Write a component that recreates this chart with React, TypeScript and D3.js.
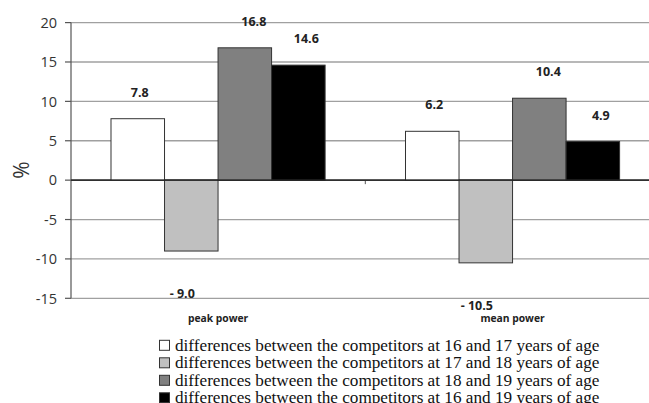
import React from "react";
import * as d3 from "d3";

const categories = ["peak power", "mean power"];
const seriesNames = [
  "differences between the competitors at 16 and 17 years of age",
  "differences between the competitors at 17 and 18 years of age",
  "differences between the competitors at 18 and 19 years of age",
  "differences between the competitors at 16 and 19 years of age",
];
const peakValues = [7.8, -9.0, 16.8, 14.6];
const meanValues = [6.2, -10.5, 10.4, 4.9];
const valueLabels = [
  ["7.8", "- 9.0", "16.8", "14.6"],
  ["6.2", "- 10.5", "10.4", "4.9"],
];
const yTicks = [20, 15, 10, 5, 0, -5, -10, -15];
const seriesColors = ["#ffffff", "#c0c0c0", "#808080", "#000000"];
const labelDx = [2, -9, 9, 8];

const W = 649;
const H = 403;

export default function App() {
  const values = [peakValues, meanValues];
  const y = d3.scaleLinear().domain([-15, 20]).range([298.3, 22.6]);
  const x0 = d3
    .scaleBand<string>()
    .domain(categories)
    .range([70.8, 659.8])
    .paddingInner(0.273)
    .paddingOuter(0.1365);
  const x1 = d3
    .scaleBand<number>()
    .domain(d3.range(seriesNames.length))
    .range([0, x0.bandwidth()]);
  const axisX = 71;
  const sans = "'Open Sans', 'Noto Sans', sans-serif";

  return (
    <div style={{ position: "fixed", left: 0, top: 0 }}>
      <svg width={W} height={H} style={{ display: "block", background: "#fff" }}>
        {/* gridlines */}
        {yTicks.map((t) => (
          <g key={t}>
            <line
              x1={axisX}
              x2={W}
              y1={y(t)}
              y2={y(t)}
              stroke={t === 0 ? "#222" : "#a0a0a0"}
              strokeWidth={t === 0 ? 1.3 : 1.3}
            />
            <line x1={axisX - 6} x2={axisX} y1={y(t)} y2={y(t)} stroke="#555" strokeWidth={1.2} />
            <text
              x={57}
              y={y(t)}
              dy="0.36em"
              textAnchor="end"
              fontFamily={sans}
              fontSize={14.5}
              fill="#333"
            >
              {t}
            </text>
          </g>
        ))}
        {/* y axis */}
        <line x1={axisX} x2={axisX} y1={y(20)} y2={y(-15)} stroke="#555" strokeWidth={1.2} />
        {/* category boundary tick */}
        <line
          x1={(x0("peak power")! + x0.bandwidth() + x0("mean power")!) / 2}
          x2={(x0("peak power")! + x0.bandwidth() + x0("mean power")!) / 2}
          y1={y(0)}
          y2={y(0) + 4}
          stroke="#555"
          strokeWidth={1}
        />
        {/* bars */}
        {categories.map((c, ci) =>
          values[ci].map((v, si) => {
            const bx = x0(c)! + x1(si)!;
            const top = y(Math.max(0, v));
            const bot = y(Math.min(0, v));
            return (
              <rect
                key={c + si}
                x={bx}
                y={top}
                width={x1.bandwidth()}
                height={bot - top}
                fill={seriesColors[si]}
                stroke="#333"
                strokeWidth={1}
              />
            );
          })
        )}
        {/* zero line over bars */}
        <line x1={axisX} x2={W} y1={y(0)} y2={y(0)} stroke="#222" strokeWidth={1.3} />
        {/* value labels */}
        {categories.map((c, ci) =>
          values[ci].map((v, si) => {
            const cx = x0(c)! + x1(si)! + x1.bandwidth() / 2 + labelDx[si];
            const ly = v >= 0 ? y(v) - 22 : y(v) + 47;
            return (
              <text
                key={"l" + c + si}
                x={cx}
                y={ly}
                textAnchor="middle"
                fontFamily={sans}
                fontWeight="bold"
                fontSize={12.5}
                fill="#222"
              >
                {valueLabels[ci][si]}
              </text>
            );
          })
        )}
        {/* category labels */}
        {categories.map((c) => (
          <text
            key={"c" + c}
            x={x0(c)! + x0.bandwidth() / 2}
            y={321.5}
            textAnchor="middle"
            fontFamily={sans}
            fontWeight="bold"
            fontSize={10.3}
            fill="#222"
          >
            {c}
          </text>
        ))}
        {/* y title */}
        <text
          transform={`translate(29,170) rotate(-90)`}
          textAnchor="middle"
          fontFamily={sans}
          fontSize={21}
          fill="#333"
        >
          %
        </text>
        {/* legend */}
        {seriesNames.map((s, i) => {
          const base = 350.8 + i * 17.5;
          return (
            <g key={"lg" + i}>
              <rect
                x={159.5}
                y={base - 10.5}
                width={10}
                height={10}
                fill={seriesColors[i]}
                stroke="#333"
                strokeWidth={1}
              />
              <text
                x={175}
                y={base}
                fontFamily="'Liberation Serif', 'Times New Roman', serif"
                fontSize={17.2}
                fill="#111"
              >
                {s}
              </text>
            </g>
          );
        })}
      </svg>
    </div>
  );
}
